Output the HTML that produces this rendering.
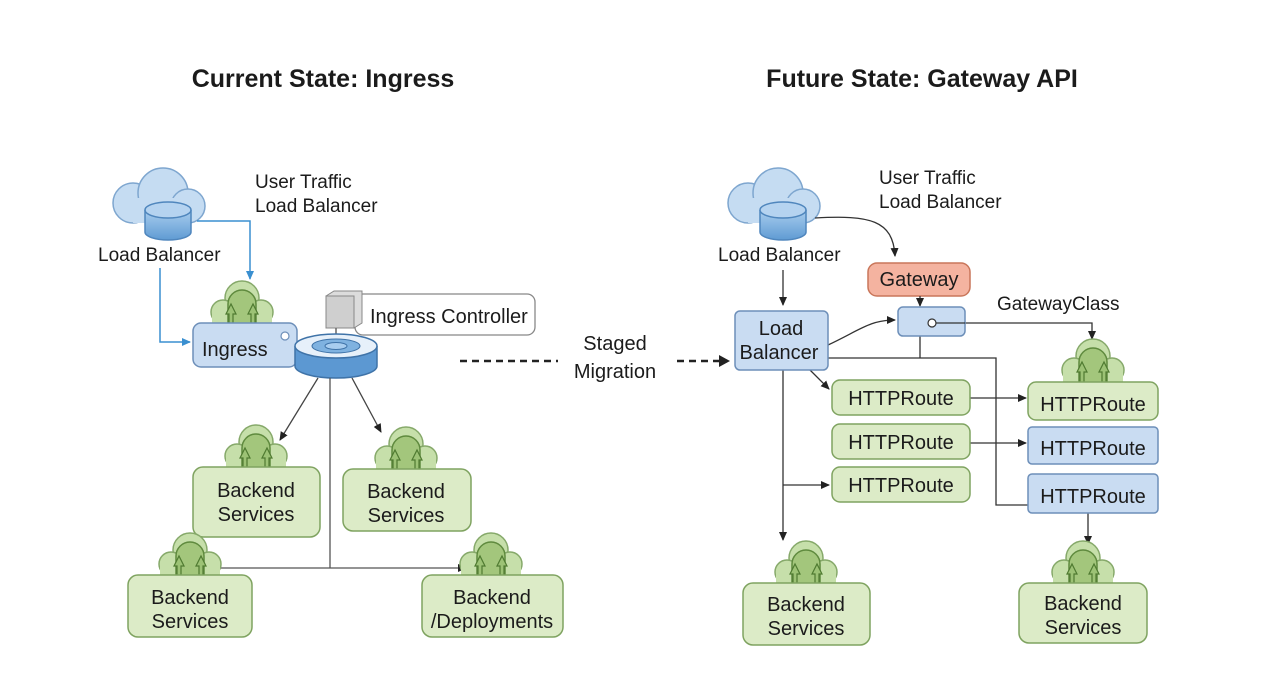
<!DOCTYPE html>
<html><head><meta charset="utf-8"><style>
html,body{margin:0;padding:0;background:#fff;}
svg{display:block;}
text{font-family:"Liberation Sans",sans-serif;fill:#1b1b1b;}
</style></head><body>
<svg width="1280" height="698" viewBox="0 0 1280 698" xmlns="http://www.w3.org/2000/svg">
<defs>
<marker id="ar" markerWidth="10" markerHeight="10" refX="8" refY="5" orient="auto" markerUnits="userSpaceOnUse"><path d="M0,1 L9,5 L0,9 z" fill="#222"/></marker>
<marker id="ab" markerWidth="10" markerHeight="10" refX="8" refY="5" orient="auto" markerUnits="userSpaceOnUse"><path d="M0,1 L9,5 L0,9 z" fill="#3a8fd0"/></marker>
<linearGradient id="cyl" x1="0" x2="0" y1="0" y2="1"><stop offset="0" stop-color="#a9cdee"/><stop offset="1" stop-color="#5f9bd3"/></linearGradient>
<g id="ic">
 <g fill="#c6dfaa" stroke="#86a96a" stroke-width="1.5">
  <circle cx="0" cy="-30" r="17"/><circle cx="-19" cy="-16" r="12"/><circle cx="19" cy="-16" r="12"/>
 </g>
 <rect x="-30" y="-16" width="60" height="16" fill="#c6dfaa"/>
 <path d="M-14,-2 V-24 A14,14 0 0 1 14,-24 V-2 Z" fill="#a3c67c" stroke="#5f8a3e" stroke-width="1.5"/>
 <path d="M-13,-2 V-14 L-16,-14 L-11,-24 L-6,-14 L-9,-14 V-2 Z" fill="#9cc275" stroke="#4f7a31" stroke-width="1.2"/>
 <path d="M13,-2 V-14 L16,-14 L11,-24 L6,-14 L9,-14 V-2 Z" fill="#9cc275" stroke="#4f7a31" stroke-width="1.2"/>
</g>
<g id="cloud">
 <g fill="#c5dcf2" stroke="#7ea6cf" stroke-width="1.5">
  <circle cx="20" cy="35" r="20"/><circle cx="50" cy="25" r="25"/><circle cx="75" cy="38" r="17"/>
  <rect x="20" y="30" width="55" height="25" stroke="none"/>
 </g>
 <path d="M32,42 v22 a23,8 0 0 0 46,0 v-22" fill="url(#cyl)" stroke="#4f86bd" stroke-width="1.5"/>
 <ellipse cx="55" cy="42" rx="23" ry="8" fill="#b5d3f0" stroke="#4f86bd" stroke-width="1.5"/>
</g>
</defs>

<!-- Titles -->
<text x="323" y="87" font-size="25" font-weight="bold" text-anchor="middle">Current State: Ingress</text>
<text x="922" y="87" font-size="25" font-weight="bold" text-anchor="middle">Future State: Gateway API</text>

<!-- LEFT -->
<use href="#cloud" x="113" y="168"/>
<text x="255" y="188" font-size="19">User Traffic</text>
<text x="255" y="212" font-size="19">Load Balancer</text>
<text x="98" y="261" font-size="19">Load Balancer</text>
<path d="M197,221 H250 V279" fill="none" stroke="#3a8fd0" stroke-width="1.5" marker-end="url(#ab)"/>
<path d="M160,268 V342 H190" fill="none" stroke="#3a8fd0" stroke-width="1.5" marker-end="url(#ab)"/>

<use href="#ic" x="242" y="328"/>
<rect x="193" y="323" width="104" height="44" rx="8" fill="#c9dcf2" stroke="#6d8fb9" stroke-width="1.5"/>
<text x="202" y="356" font-size="20">Ingress</text>
<circle cx="285" cy="336" r="4" fill="#fff" stroke="#6d8fb9" stroke-width="1.2"/>

<!-- Ingress controller -->
<rect x="355" y="294" width="180" height="41" rx="8" fill="#fff" stroke="#888" stroke-width="1.3"/>
<text x="370" y="323" font-size="20">Ingress Controller</text>
<path d="M326,296 l8,-5 h28 v32 l-8,5 z" fill="#dcdcdc" stroke="#888"/>
<rect x="326" y="296" width="28" height="32" fill="#cfcfcf" stroke="#888"/>
<path d="M336,328 L336,340" stroke="#666" stroke-width="1.5"/>
<path d="M295,346 v20 a41,12 0 0 0 82,0 v-20" fill="#5c98d2" stroke="#3f73a8" stroke-width="1.5"/>
<ellipse cx="336" cy="346" rx="41" ry="12" fill="#e6f0fa" stroke="#3f73a8" stroke-width="1.5"/>
<ellipse cx="336" cy="346" rx="24" ry="7" fill="#7fb2e0" stroke="#3f73a8"/>
<ellipse cx="336" cy="346" rx="11" ry="3.5" fill="#a8cdef" stroke="#3f73a8"/>

<!-- left connectors -->
<line x1="318" y1="378" x2="280" y2="440" stroke="#444" stroke-width="1.3" marker-end="url(#ar)"/>
<line x1="352" y1="378" x2="381" y2="432" stroke="#444" stroke-width="1.3" marker-end="url(#ar)"/>
<line x1="330" y1="378" x2="330" y2="568" stroke="#555" stroke-width="1.3"/>
<line x1="218" y1="568" x2="466" y2="568" stroke="#555" stroke-width="1.3" marker-end="url(#ar)"/>

<use href="#ic" x="256" y="472"/>
<rect x="193" y="467" width="127" height="70" rx="10" fill="#dcebc7" stroke="#7fa360" stroke-width="1.5"/>
<text x="256" y="497" font-size="20" text-anchor="middle">Backend</text>
<text x="256" y="521" font-size="20" text-anchor="middle">Services</text>

<use href="#ic" x="406" y="474"/>
<rect x="343" y="469" width="128" height="62" rx="10" fill="#dcebc7" stroke="#7fa360" stroke-width="1.5"/>
<text x="406" y="498" font-size="20" text-anchor="middle">Backend</text>
<text x="406" y="522" font-size="20" text-anchor="middle">Services</text>

<use href="#ic" x="190" y="580"/>
<rect x="128" y="575" width="124" height="62" rx="10" fill="#dcebc7" stroke="#7fa360" stroke-width="1.5"/>
<text x="190" y="604" font-size="20" text-anchor="middle">Backend</text>
<text x="190" y="628" font-size="20" text-anchor="middle">Services</text>

<use href="#ic" x="491" y="580"/>
<rect x="422" y="575" width="141" height="62" rx="10" fill="#dcebc7" stroke="#7fa360" stroke-width="1.5"/>
<text x="492" y="604" font-size="20" text-anchor="middle">Backend</text>
<text x="492" y="628" font-size="20" text-anchor="middle">/Deployments</text>

<!-- migration -->
<line x1="460" y1="361" x2="558" y2="361" stroke="#222" stroke-width="2.5" stroke-dasharray="7,5"/>
<text x="615" y="350" font-size="20" text-anchor="middle">Staged</text>
<text x="615" y="378" font-size="20" text-anchor="middle">Migration</text>
<line x1="677" y1="361" x2="720" y2="361" stroke="#222" stroke-width="2.5" stroke-dasharray="7,5"/>
<path d="M719,355 L730,361 L719,367 z" fill="#222"/>

<!-- RIGHT -->
<use href="#cloud" x="728" y="168"/>
<text x="879" y="184" font-size="19">User Traffic</text>
<text x="879" y="208" font-size="19">Load Balancer</text>
<text x="718" y="261" font-size="19">Load Balancer</text>
<line x1="783" y1="270" x2="783" y2="305" stroke="#333" stroke-width="1.3" marker-end="url(#ar)"/>
<path d="M815,218 C870,215 893,220 895,256" fill="none" stroke="#333" stroke-width="1.3" marker-end="url(#ar)"/>

<rect x="868" y="263" width="102" height="33" rx="9" fill="#f4b3a0" stroke="#c9765a" stroke-width="1.5"/>
<text x="919" y="286" font-size="20" text-anchor="middle">Gateway</text>
<line x1="920" y1="296" x2="920" y2="306" stroke="#333" stroke-width="1.3" marker-end="url(#ar)"/>
<text x="997" y="310" font-size="19">GatewayClass</text>

<!-- connectors right -->
<path d="M932,323 H1092 V339" fill="none" stroke="#333" stroke-width="1.3" marker-end="url(#ar)"/>
<line x1="920" y1="336" x2="920" y2="358" stroke="#333" stroke-width="1.3"/>
<path d="M828,358 H996 V505 H1028" fill="none" stroke="#333" stroke-width="1.3"/>
<path d="M828,345 C860,330 870,320 895,320" fill="none" stroke="#333" stroke-width="1.3" marker-end="url(#ar)"/>
<line x1="810" y1="370" x2="829" y2="389" stroke="#333" stroke-width="1.3" marker-end="url(#ar)"/>
<line x1="783" y1="370" x2="783" y2="540" stroke="#333" stroke-width="1.3" marker-end="url(#ar)"/>
<line x1="783" y1="485" x2="829" y2="485" stroke="#333" stroke-width="1.3" marker-end="url(#ar)"/>
<line x1="970" y1="398" x2="1026" y2="398" stroke="#333" stroke-width="1.3" marker-end="url(#ar)"/>
<line x1="970" y1="443" x2="1026" y2="443" stroke="#333" stroke-width="1.3" marker-end="url(#ar)"/>
<line x1="1088" y1="513" x2="1088" y2="544" stroke="#333" stroke-width="1.3" marker-end="url(#ar)"/>

<rect x="898" y="307" width="67" height="29" rx="5" fill="#c9dcf2" stroke="#6d8fb9" stroke-width="1.5"/>
<circle cx="932" cy="323" r="4" fill="#fff" stroke="#333" stroke-width="1.2"/>
<line x1="936" y1="323" x2="965" y2="323" stroke="#333" stroke-width="1.3"/>

<rect x="735" y="311" width="93" height="59" rx="5" fill="#c9dcf2" stroke="#6d8fb9" stroke-width="1.5"/>
<text x="781" y="335" font-size="20" text-anchor="middle">Load</text>
<text x="779" y="359" font-size="20" text-anchor="middle">Balancer</text>

<g font-size="20">
<rect x="832" y="380" width="138" height="35" rx="8" fill="#dcebc7" stroke="#7fa360" stroke-width="1.5"/>
<text x="901" y="405" font-size="20" text-anchor="middle">HTTPRoute</text>
<rect x="832" y="424" width="138" height="35" rx="8" fill="#dcebc7" stroke="#7fa360" stroke-width="1.5"/>
<text x="901" y="449" font-size="20" text-anchor="middle">HTTPRoute</text>
<rect x="832" y="467" width="138" height="35" rx="8" fill="#dcebc7" stroke="#7fa360" stroke-width="1.5"/>
<text x="901" y="492" font-size="20" text-anchor="middle">HTTPRoute</text>

<use href="#ic" x="1093" y="386"/>
<rect x="1028" y="382" width="130" height="38" rx="8" fill="#dcebc7" stroke="#7fa360" stroke-width="1.5"/>
<text x="1093" y="411" font-size="20" text-anchor="middle">HTTPRoute</text>
<rect x="1028" y="427" width="130" height="37" rx="4" fill="#c9dcf2" stroke="#6d8fb9" stroke-width="1.5"/>
<text x="1093" y="455" font-size="20" text-anchor="middle">HTTPRoute</text>
<rect x="1028" y="474" width="130" height="39" rx="4" fill="#c9dcf2" stroke="#6d8fb9" stroke-width="1.5"/>
<text x="1093" y="503" font-size="20" text-anchor="middle">HTTPRoute</text>
</g>

<use href="#ic" x="806" y="588"/>
<rect x="743" y="583" width="127" height="62" rx="10" fill="#dcebc7" stroke="#7fa360" stroke-width="1.5"/>
<text x="806" y="611" font-size="20" text-anchor="middle">Backend</text>
<text x="806" y="635" font-size="20" text-anchor="middle">Services</text>

<use href="#ic" x="1083" y="588"/>
<rect x="1019" y="583" width="128" height="60" rx="10" fill="#dcebc7" stroke="#7fa360" stroke-width="1.5"/>
<text x="1083" y="610" font-size="20" text-anchor="middle">Backend</text>
<text x="1083" y="634" font-size="20" text-anchor="middle">Services</text>
</svg>
</body></html>
